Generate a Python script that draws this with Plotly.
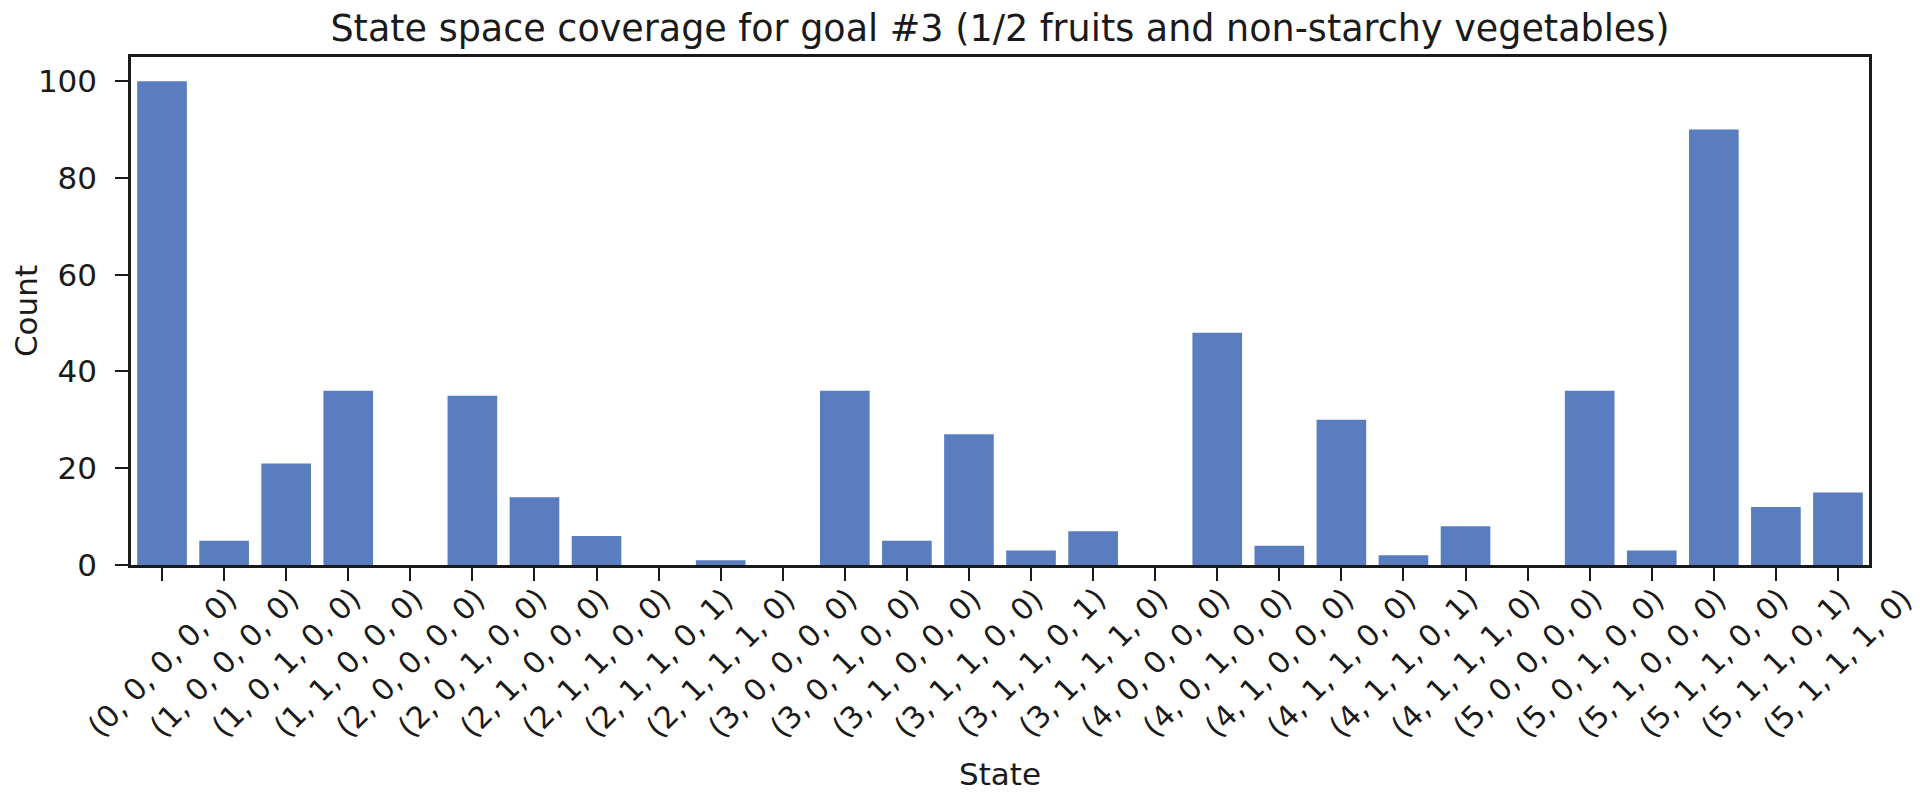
import plotly.graph_objects as go

# states visited by the agent (goal #3) and how often
states = [
    "(0, 0, 0, 0, 0)", "(1, 0, 0, 0, 0)", "(1, 0, 1, 0, 0)", "(1, 1, 0, 0, 0)",
    "(2, 0, 0, 0, 0)", "(2, 0, 1, 0, 0)", "(2, 1, 0, 0, 0)", "(2, 1, 1, 0, 0)",
    "(2, 1, 1, 0, 1)", "(2, 1, 1, 1, 0)", "(3, 0, 0, 0, 0)", "(3, 0, 1, 0, 0)",
    "(3, 1, 0, 0, 0)", "(3, 1, 1, 0, 0)", "(3, 1, 1, 0, 1)", "(3, 1, 1, 1, 0)",
    "(4, 0, 0, 0, 0)", "(4, 0, 1, 0, 0)", "(4, 1, 0, 0, 0)", "(4, 1, 1, 0, 0)",
    "(4, 1, 1, 0, 1)", "(4, 1, 1, 1, 0)", "(5, 0, 0, 0, 0)", "(5, 0, 1, 0, 0)",
    "(5, 1, 0, 0, 0)", "(5, 1, 1, 0, 0)", "(5, 1, 1, 0, 1)", "(5, 1, 1, 1, 0)",
]
counts = [100, 5, 21, 36, 0, 35, 14, 6, 0, 1, 0, 36, 5, 27, 3, 7,
          0, 48, 4, 30, 2, 8, 0, 36, 3, 90, 12, 15]
y_ticks = [0, 20, 40, 60, 80, 100]

FONT = "DejaVu Sans"
INK = "#1a1a1a"
W, H = 1912, 786  # page body adds an 8px margin, keep the figure inside the window

fig = go.Figure(go.Bar(x=states, y=counts, marker_color="#597DBF", marker_line_width=0))

# matplotlib-style rotated labels centred under each tick
for s in states:
    fig.add_annotation(x=s, y=-0.03, xref="x", yref="paper", text=s, showarrow=False,
                       textangle=-45, xanchor="center", yanchor="top", borderpad=0,
                       font=dict(family=FONT, size=30, color=INK))

fig.update_xaxes(showticklabels=False, ticks="outside", ticklen=13, tickwidth=2, tickcolor=INK,
                 showline=True, linewidth=2.5, linecolor=INK, mirror=True, showgrid=False,
                 range=[-0.5, len(states) - 0.5],
                 title=dict(text="State", standoff=184, font=dict(family=FONT, size=31, color=INK)))
fig.update_yaxes(tickvals=y_ticks, range=[0, 105], ticks="outside", ticklen=13, tickwidth=2,
                 tickcolor=INK, showline=True, linewidth=2.5, linecolor=INK, mirror=True,
                 showgrid=False, zeroline=False, ticklabelstandoff=12,
                 tickfont=dict(family=FONT, size=31, color=INK),
                 title=dict(text="Count", standoff=16, font=dict(family=FONT, size=31, color=INK)))

fig.update_layout(
    width=W, height=H,
    margin=dict(l=123, r=51, t=49, b=229, autoexpand=False),
    bargap=0.2,
    plot_bgcolor="white", paper_bgcolor="white",
    showlegend=False,
    title=dict(text="State space coverage for goal #3 (1/2 fruits and non-starchy vegetables)",
               x=0.5, xref="paper", y=1 - 20 / H, yref="container", yanchor="middle",
               font=dict(family=FONT, size=36.5, color=INK)),
)

fig.write_html("out.html")
